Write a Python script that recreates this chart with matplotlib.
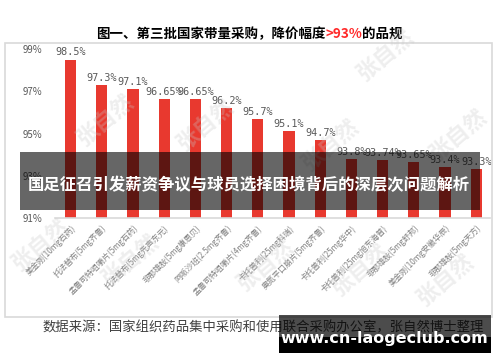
import matplotlib
matplotlib.use('Agg')
import matplotlib.pyplot as plt
from matplotlib.patches import Rectangle

plt.rcParams['font.family'] = ['Noto Sans CJK SC', 'DejaVu Sans']

# data
drugs = ['美金刚(10mg石药)', '托法替布(5mg齐鲁)', '孟鲁司特咀嚼片(5mg石药)',
         '托法替布(5mg先声东元)', '非那雄胺(5mg康恩贝)', '阿哌沙班(2.5mg齐鲁)',
         '孟鲁司特咀嚼片(4mg齐鲁)', '卡托普利(25mg科瑞)', '奥氮平口崩片(5mg齐鲁)',
         '卡托普利(25mg华中)', '卡托普利(25mg旭东海普)', '非那雄胺(5mg舒邦)',
         '美金刚(10mg安徽华辰)', '非那雄胺(5mg天方)']
cuts = [98.5, 97.3, 97.1, 96.65, 96.65, 96.2, 95.7, 95.1, 94.7,
        93.8, 93.74, 93.65, 93.4, 93.3]
yticks = [91, 93, 95, 97, 99]

W, H = 500, 362
fig = plt.figure(figsize=(W / 100, H / 100), dpi=100)

def fx(x):
    return x / W

def fy(y):
    return 1 - y / H

# outer frame
fig.patches.append(Rectangle((fx(5), fy(317)), fx(487), (317 - 43) / H,
                             transform=fig.transFigure, fill=False,
                             edgecolor='#d9d9d9', linewidth=1.2))

ax = fig.add_axes([fx(55), fy(218), fx(435), (218 - 49) / H])
x = list(range(len(drugs)))
ax.bar(x, cuts, width=0.36, bottom=0, color='#E8392F', zorder=2)
ax.set_ylim(91, 99)
ax.set_xlim(-0.5, 13.44)
for i, v in zip(x, cuts):
    ax.annotate(f'{v}%', (i, v), xytext=(0, 1.5), textcoords='offset points',
                ha='center', va='bottom', fontsize=7.3, color='#595959',
                family='DejaVu Sans Mono')

ax.set_yticks(yticks, [f'{t}%' for t in yticks])
ax.tick_params(axis='y', length=0, pad=9, labelsize=7, labelcolor='#595959')
ax.set_xticks(x, drugs, rotation=45, ha='right', rotation_mode='anchor')
ax.tick_params(axis='x', length=0, pad=4, labelsize=5.8, labelcolor='#808080')
for s in ['top', 'right', 'left']:
    ax.spines[s].set_visible(False)
ax.spines['bottom'].set_color('#d9d9d9')
ax.spines['bottom'].set_linewidth(1.2)

# title with red part
fig.canvas.draw()
r = fig.canvas.get_renderer()
parts = [('图一、第三批国家带量采购，降价幅度', 'black'), ('>93%', '#FF2A2A'), ('的品规', 'black')]
xpos = 96
for txt, col in parts:
    t = fig.text(fx(xpos), fy(34), txt, fontsize=9.7, fontweight='bold',
                 color=col, va='center', ha='left')
    xpos += t.get_window_extent(renderer=r).width

# source
fig.text(fx(43), fy(327), '数据来源：国家组织药品集中采购和使用联合采购办公室，张自然博士整理',
         fontsize=9.6, color='#404040', va='center', ha='left')

# watermarks
marks = [(105, 120), (205, 125), (330, 145), (385, 55), (458, 135),
         (40, 245), (130, 260), (265, 265), (360, 270), (445, 280)]
for mx, my in marks:
    fig.text(fx(mx), fy(my), '张自然', fontsize=16, color='#c8c8c8', alpha=0.3,
             rotation=40, ha='center', va='center', fontweight='bold')

# middle banner
fig.patches.append(Rectangle((fx(20), fy(210)), fx(460), (210 - 152) / H,
                             transform=fig.transFigure, facecolor='black',
                             alpha=0.6, edgecolor='none', zorder=5))
fig.text(fx(249), fy(185), '国足征召引发薪资争议与球员选择困境背后的深层次问题解析',
         fontsize=11.8, fontweight='bold', color='white', ha='center',
         va='center', zorder=6)

# bottom banner
fig.patches.append(Rectangle((fx(279), fy(337)), fx(212), (337 - 315) / H,
                             transform=fig.transFigure, facecolor='black',
                             alpha=0.7, edgecolor='none', zorder=5))
fig.patches.append(Rectangle((fx(279), fy(353)), fx(212), (353 - 337) / H,
                             transform=fig.transFigure, facecolor='black',
                             edgecolor='none', zorder=5))
fig.text(fx(384), fy(338), 'www.cn-laogeclub.com', fontsize=11.5,
         fontweight='bold', color='white', ha='center', va='center',
         family='DejaVu Sans', zorder=6)

fig.savefig('out.png', dpi=100)
